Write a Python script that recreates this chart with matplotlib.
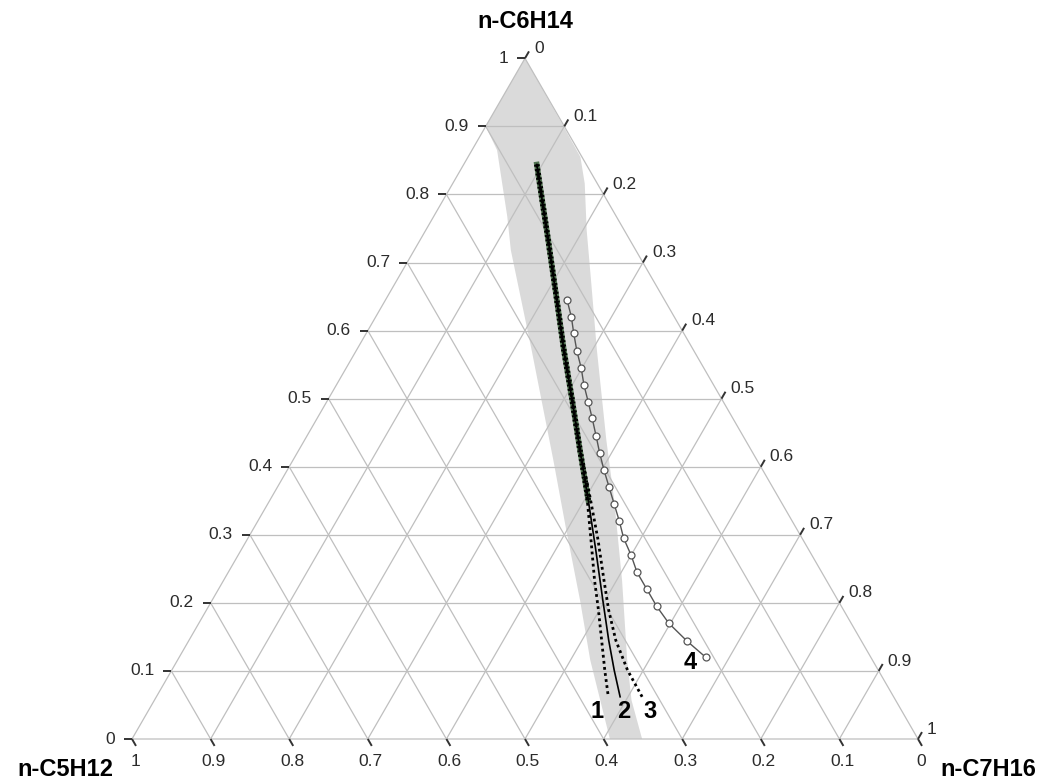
import numpy as np
import matplotlib
matplotlib.use("Agg")
import matplotlib.pyplot as plt

plt.rcParams['font.family'] = ['Liberation Sans', 'DejaVu Sans']

# compositions are (n-C6H14, n-C7H16) fractions, n-C5H12 = 1 - both
TICKS = [0.0, 0.1, 0.2, 0.3, 0.4, 0.5, 0.6, 0.7, 0.8, 0.9, 1.0]

# grey region
region_c6 = [1.00, 0.90, 0.865, 0.816, 0.767, 0.718, 0.571, 0.410, 0.307, 0.204, 0.116, 0.0,
             0.0, 0.057, 0.116, 0.233, 0.351, 0.439, 0.571, 0.674, 0.747, 0.816, 0.855, 0.902]
region_c7 = [0.00, 0.00, 0.032, 0.063, 0.094, 0.123, 0.223, 0.331, 0.399, 0.468, 0.525, 0.608,
             0.649, 0.607, 0.572, 0.507, 0.438, 0.384, 0.306, 0.247, 0.205, 0.168, 0.143, 0.097]

# curve 2 (solid)
c2_c6 = [0.844, 0.733, 0.645, 0.571, 0.498, 0.424, 0.351, 0.278, 0.204, 0.145, 0.101, 0.062]
c2_c7 = [0.093, 0.163, 0.218, 0.264, 0.311, 0.358, 0.405, 0.451, 0.497, 0.534, 0.563, 0.590]

# curve 1 (dotted, left)
c1_c6 = [0.844, 0.733, 0.645, 0.571, 0.498, 0.424, 0.366, 0.292, 0.233, 0.189, 0.145, 0.101, 0.062]
c1_c7 = [0.093, 0.163, 0.218, 0.264, 0.311, 0.358, 0.395, 0.438, 0.472, 0.499, 0.525, 0.551, 0.575]

# curve 3 (dotted, right)
c3_c6 = [0.844, 0.733, 0.645, 0.571, 0.498, 0.424, 0.366, 0.292, 0.233, 0.189, 0.145, 0.101, 0.062]
c3_c7 = [0.093, 0.163, 0.218, 0.264, 0.311, 0.358, 0.398, 0.447, 0.484, 0.512, 0.543, 0.580, 0.618]

# curve 4 (open circles)
c4_c6 = [0.645, 0.620, 0.596, 0.570, 0.545, 0.520, 0.495, 0.471, 0.445, 0.420, 0.395,
         0.370, 0.345, 0.320, 0.295, 0.270, 0.245, 0.220, 0.195, 0.170, 0.144, 0.120]
c4_c7 = [0.231, 0.249, 0.264, 0.281, 0.299, 0.315, 0.333, 0.350, 0.368, 0.385, 0.403,
         0.422, 0.441, 0.460, 0.478, 0.500, 0.520, 0.545, 0.570, 0.598, 0.634, 0.670]

H = np.sqrt(3) / 2


def tern(c6, c7):
    c6 = np.asarray(c6, dtype=float)
    c7 = np.asarray(c7, dtype=float)
    return c7 + c6 / 2, c6 * H


PX = 1 / 786.0  # one pixel in axis units

fig = plt.figure(figsize=(10.39, 7.80), dpi=100)
ax = fig.add_axes([0, 0, 1, 1])
ax.set_xlim(-132 * PX, (1039 - 132) * PX)
ax.set_ylim(-41 * PX, 739 * PX)
ax.axis('off')

grid_kw = dict(color='#bfbfbf', lw=0.9, zorder=2)

# grid
for v in TICKS[1:-1]:
    ax.plot(*tern([v, v], [0, 1 - v]), **grid_kw)
    ax.plot(*tern([0, 1 - v], [v, v]), **grid_kw)
    ax.plot(*tern([0, 1 - v], [1 - v, 0]), **grid_kw)
ax.plot(*tern([0, 0, 1, 0], [0, 1, 0, 0]), **grid_kw)

# grey region
rx, ry = tern(region_c6, region_c7)
ax.fill(rx, ry, color='#dadada', lw=0, zorder=1)

# ticks and labels
L = 8 * PX
tick_kw = dict(color='#333333', lw=1.4, zorder=3, solid_capstyle='butt')
lab_kw = dict(fontsize=12.5, color='#2b2b2b')
for v in TICKS:
    # left axis: n-C6H14
    x, y = tern(v, 0)
    ax.plot([x - L, x], [y, y], **tick_kw)
    ax.text(x - L - 9 * PX, y, f"{v:g}", ha='right', va='center', **lab_kw)
    # right axis: n-C7H16
    x, y = tern(1 - v, v)
    ex, ey = x + 0.5 * L, y + H * L
    ax.plot([x, ex], [y, ey], **tick_kw)
    ax.text(ex + 5 * PX, ey + 3 * PX, f"{v:g}", ha='left', va='center', **lab_kw)
    # bottom axis: n-C5H12
    x, y = tern(0, 1 - v)
    ax.plot([x, x + 0.5 * L], [y, y - H * L], **tick_kw)
    ax.text(x + 3 * PX, y - 22 * PX, f"{v:g}", ha='center', va='center', **lab_kw)

# curves
x1, y1 = tern(c1_c6, c1_c7)
x2, y2 = tern(c2_c6, c2_c7)
x3, y3 = tern(c3_c6, c3_c7)
x4, y4 = tern(c4_c6, c4_c7)

ax.plot(x2[:7], y2[:7], color='#2f5a2f', lw=4.0, zorder=4, alpha=0.8)
ax.plot(x2[:7], y2[:7], color='black', lw=4.0, ls=(0, (0.35, 0.45)), zorder=5)
ax.plot(x1, y1, color='black', lw=2.0, ls=(0, (1, 1.2)), zorder=5)
ax.plot(x3, y3, color='black', lw=2.0, ls=(0.6, (1, 1.2)), zorder=5)
ax.plot(x2, y2, color='black', lw=1.2, zorder=6)
ax.plot(x4, y4, color='#555555', lw=1.0, marker='o', ms=5, mfc='white',
        mec='#555555', mew=0.9, zorder=6)

num_kw = dict(fontsize=17, fontweight='bold', ha='center', va='center',
              textcoords='offset pixels')
ax.annotate('1', (x1[-1], y1[-1]), xytext=(-11, -15), **num_kw)
ax.annotate('2', (x2[-1], y2[-1]), xytext=(4, -15), **num_kw)
ax.annotate('3', (x3[-1], y3[-1]), xytext=(8, -15), **num_kw)
ax.annotate('4', (x4[-1], y4[-1]), xytext=(-16, -5), **num_kw)

# component names
name_kw = dict(fontsize=17, fontweight='bold', va='center')
ax.text(0.5, (739 - 22) * PX, 'n-C6H14', ha='center', **name_kw)
ax.text(-19 * PX, -30 * PX, 'n-C5H12', ha='right', **name_kw)
ax.text(1 + 22 * PX, -30 * PX, 'n-C7H16', ha='left', **name_kw)

fig.savefig('out.png', dpi=100)
